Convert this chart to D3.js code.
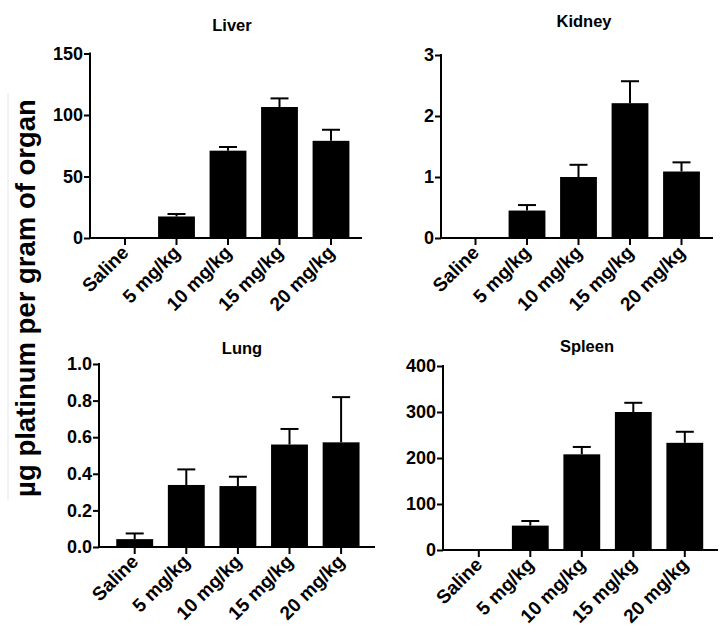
<!DOCTYPE html>
<html>
<head>
<meta charset="utf-8">
<script src="https://cdn.jsdelivr.net/npm/d3@7"></script>
<style>
  html, body { margin: 0; padding: 0; background: #fff; }
  svg { display: block; }
  text { font-family: "Liberation Sans", Arial, Helvetica, sans-serif; font-weight: bold; fill: #000; }
</style>
</head>
<body>
<svg id="chart" width="727" height="640"></svg>
<script>
// ---- data ----
const categories = ["Saline", "5 mg/kg", "10 mg/kg", "15 mg/kg", "20 mg/kg"];

const liverMean  = [0, 17.5, 71, 106.5, 79];
const liverErr   = [0, 2, 3, 7, 9];
const liverTicks = [0, 50, 100, 150];

const kidneyMean  = [0.01, 0.45, 1.0, 2.21, 1.09];
const kidneyErr   = [0, 0.09, 0.2, 0.36, 0.15];
const kidneyTicks = [0, 1, 2, 3];

const lungMean  = [0.043, 0.339, 0.333, 0.56, 0.572];
const lungErr   = [0.031, 0.085, 0.051, 0.085, 0.247];
const lungTicks = [0.0, 0.2, 0.4, 0.6, 0.8, 1.0];

const spleenMean  = [0, 53, 208, 300, 233];
const spleenErr   = [0, 10, 16, 20, 24];
const spleenTicks = [0, 100, 200, 300, 400];

const yAxisTitle = "µg platinum per gram of organ";

// ---- layout (pixel geometry only) ----
const panels = [
  { title: "Liver",  mean: liverMean,  err: liverErr,  ticks: liverTicks,  fmt: d3.format("d"),
    ax: 90,  y0: 238, yTop: 53.5, c0: 125,   step: 51.5, xEnd: 362, tx: 232, ty: 31 },
  { title: "Kidney", mean: kidneyMean, err: kidneyErr, ticks: kidneyTicks, fmt: d3.format("d"),
    ax: 441, y0: 238, yTop: 55,   c0: 475.5, step: 51.5, xEnd: 713, tx: 584, ty: 27 },
  { title: "Lung",   mean: lungMean,   err: lungErr,   ticks: lungTicks,   fmt: d3.format(".1f"),
    ax: 99,  y0: 547, yTop: 364,  c0: 134.7, step: 51.6, xEnd: 375, tx: 242, ty: 354 },
  { title: "Spleen", mean: spleenMean, err: spleenErr, ticks: spleenTicks, fmt: d3.format("d"),
    ax: 443, y0: 550, yTop: 366,  c0: 478.8, step: 51.5, xEnd: 718, tx: 587, ty: 352 }
];

const svg = d3.select("#chart");
const SW = 2;

// faint left border line seen in the reference
svg.append("line")
  .attr("x1", 8).attr("x2", 8).attr("y1", 93).attr("y2", 500)
  .attr("stroke", "#e6e6e6").attr("stroke-width", 1);

// y axis title
svg.append("text")
  .attr("transform", "translate(35,298) rotate(-90)")
  .attr("text-anchor", "middle")
  .style("font-size", "27.5px")
  .text(yAxisTitle);

panels.forEach(p => {
  const g = svg.append("g");
  const ymax = p.ticks[p.ticks.length - 1];
  const y = d3.scaleLinear().domain([0, ymax]).range([p.y0, p.yTop]);
  const x = d3.scaleBand().domain(categories)
    .range([p.c0 - p.step / 2, p.c0 + 4.5 * p.step])
    .paddingInner(0.285).paddingOuter(0.1425);
  const bw = x.bandwidth();

  // bars
  g.selectAll("rect.bar").data(categories).enter().append("rect")
    .attr("x", d => x(d))
    .attr("width", bw)
    .attr("y", (d, i) => y(p.mean[i]))
    .attr("height", (d, i) => Math.max(0, p.y0 - y(p.mean[i])))
    .attr("fill", "#000");

  // error bars (upper only)
  const eb = g.selectAll("g.err").data(categories).enter().append("g")
    .filter((d, i) => p.err[i] > 0);
  eb.append("line")
    .attr("x1", d => x(d) + bw / 2).attr("x2", d => x(d) + bw / 2)
    .attr("y1", d => y(p.mean[categories.indexOf(d)]))
    .attr("y2", d => y(p.mean[categories.indexOf(d)] + p.err[categories.indexOf(d)]))
    .attr("stroke", "#000").attr("stroke-width", SW);
  eb.append("line")
    .attr("x1", d => x(d) + bw / 2 - 9).attr("x2", d => x(d) + bw / 2 + 9)
    .attr("y1", d => y(p.mean[categories.indexOf(d)] + p.err[categories.indexOf(d)]))
    .attr("y2", d => y(p.mean[categories.indexOf(d)] + p.err[categories.indexOf(d)]))
    .attr("stroke", "#000").attr("stroke-width", SW);

  // y axis
  const yAxis = d3.axisLeft(y).tickValues(p.ticks).tickFormat(p.fmt)
    .tickSize(6).tickPadding(1);
  const ya = g.append("g").attr("transform", `translate(${p.ax},0)`).call(yAxis);
  ya.select(".domain").remove();
  ya.selectAll(".tick line").attr("stroke", "#000").attr("stroke-width", SW);
  ya.selectAll(".tick text")
    .style("font-size", "18px")
    .style("font-family", "'Liberation Sans', Arial, sans-serif")
    .style("font-weight", "bold")
    .attr("fill", "#000");
  g.append("line")
    .attr("x1", p.ax).attr("x2", p.ax)
    .attr("y1", p.y0 + 1).attr("y2", p.yTop - 1)
    .attr("stroke", "#000").attr("stroke-width", SW);

  // x axis
  g.append("line")
    .attr("x1", p.ax - 1).attr("x2", p.xEnd)
    .attr("y1", p.y0).attr("y2", p.y0)
    .attr("stroke", "#000").attr("stroke-width", SW);
  g.selectAll("line.xtick").data(categories).enter().append("line")
    .attr("x1", d => x(d) + bw / 2).attr("x2", d => x(d) + bw / 2)
    .attr("y1", p.y0).attr("y2", p.y0 + 7)
    .attr("stroke", "#000").attr("stroke-width", SW);
  g.selectAll("text.xlab").data(categories).enter().append("text")
    .attr("transform", d => `translate(${x(d) + bw / 2},${p.y0 + 11}) rotate(-45)`)
    .attr("text-anchor", "end")
    .attr("dy", "0.35em")
    .style("font-size", "19px")
    .text(d => d);

  // title
  g.append("text")
    .attr("x", p.tx).attr("y", p.ty)
    .attr("text-anchor", "middle")
    .style("font-size", "16.5px")
    .text(p.title);
});
</script>
</body>
</html>
